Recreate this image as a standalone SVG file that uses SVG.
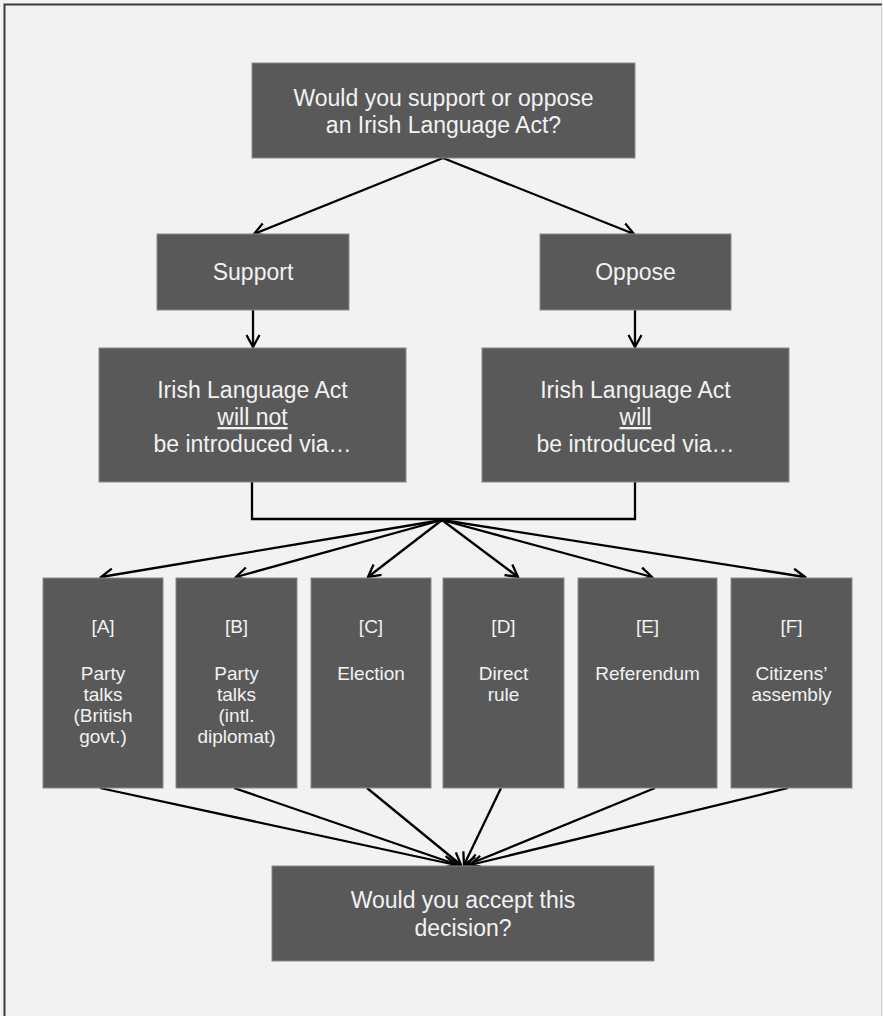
<svg xmlns="http://www.w3.org/2000/svg" width="883" height="1016" viewBox="0 0 883 1016">
<defs>
<marker id="arr" viewBox="0 0 16 16" refX="14" refY="8" markerWidth="16" markerHeight="16" orient="auto" markerUnits="userSpaceOnUse">
<path d="M2,1.5 L14,8 L2,14.5" fill="none" stroke="#000" stroke-width="2.3"/>
</marker>
<style>
.box{fill:#595959;stroke:#8a8a8a;stroke-width:1}
.t{font-family:"Liberation Sans",Arial,sans-serif;fill:#f2f2f2;text-anchor:middle}
.l{font-size:23px}
.s{font-size:19px}
.c{fill:none;stroke:#000;stroke-width:2.3}
</style>
</defs>
<rect x="0" y="0" width="883" height="1016" fill="#f2f2f2"/>
<path d="M4.5,1016 V4.5 H882" fill="none" stroke="#3a3a3a" stroke-width="2"/>
<path d="M881.5,5 V1016" fill="none" stroke="#cfcfcf" stroke-width="1"/>

<g id="connectors">
<line class="c" x1="443" y1="158" x2="254" y2="234" marker-end="url(#arr)"/>
<line class="c" x1="443" y1="158" x2="634" y2="234" marker-end="url(#arr)"/>
<line class="c" x1="253" y1="310" x2="253" y2="347" marker-end="url(#arr)"/>
<line class="c" x1="635" y1="310" x2="635" y2="347" marker-end="url(#arr)"/>
<path class="c" d="M252,482 V519 H635 V482"/>
<line class="c" x1="442" y1="520" x2="101" y2="577" marker-end="url(#arr)"/>
<line class="c" x1="442" y1="520" x2="236" y2="577" marker-end="url(#arr)"/>
<line class="c" x1="442" y1="520" x2="368" y2="577" marker-end="url(#arr)"/>
<line class="c" x1="442" y1="520" x2="518" y2="577" marker-end="url(#arr)"/>
<line class="c" x1="442" y1="520" x2="652" y2="577" marker-end="url(#arr)"/>
<line class="c" x1="442" y1="520" x2="805" y2="577" marker-end="url(#arr)"/>
<line class="c" x1="100" y1="788" x2="456" y2="865" marker-end="url(#arr)"/>
<line class="c" x1="234" y1="788" x2="458" y2="865" marker-end="url(#arr)"/>
<line class="c" x1="367" y1="788" x2="461" y2="865" marker-end="url(#arr)"/>
<line class="c" x1="501" y1="788" x2="464" y2="865" marker-end="url(#arr)"/>
<line class="c" x1="655" y1="788" x2="467" y2="865" marker-end="url(#arr)"/>
<line class="c" x1="788" y1="788" x2="470" y2="865" marker-end="url(#arr)"/>
</g>

<g id="question">
<rect class="box" x="252" y="63" width="383" height="95"/>
<text class="t l" x="443.5" y="106">Would you support or oppose</text>
<text class="t l" x="443.5" y="133">an Irish Language Act?</text>
</g>

<g id="support">
<rect class="box" x="157" y="234" width="192" height="76"/>
<text class="t l" x="253" y="280">Support</text>
</g>

<g id="oppose">
<rect class="box" x="540" y="234" width="191" height="76"/>
<text class="t l" x="635.5" y="280">Oppose</text>
</g>

<g id="will-not">
<rect class="box" x="99" y="348" width="307" height="134"/>
<text class="t l" x="252.5" y="398">Irish Language Act</text>
<text class="t l" x="252.5" y="425" text-decoration="underline">will not</text>
<text class="t l" x="252.5" y="452">be introduced via…</text>
</g>

<g id="will">
<rect class="box" x="482" y="348" width="307" height="134"/>
<text class="t l" x="635.5" y="398">Irish Language Act</text>
<text class="t l" x="635.5" y="425" text-decoration="underline">will</text>
<text class="t l" x="635.5" y="452">be introduced via…</text>
</g>

<g id="a">
<rect class="box" x="43" y="578" width="120" height="210"/>
<text class="t s" x="103" y="633">[A]</text>
<text class="t s" x="103" y="680">Party</text>
<text class="t s" x="103" y="701">talks</text>
<text class="t s" x="103" y="722">(British</text>
<text class="t s" x="103" y="743">govt.)</text>
</g>

<g id="b">
<rect class="box" x="176" y="578" width="121" height="210"/>
<text class="t s" x="236.5" y="633">[B]</text>
<text class="t s" x="236.5" y="680">Party</text>
<text class="t s" x="236.5" y="701">talks</text>
<text class="t s" x="236.5" y="722">(intl.</text>
<text class="t s" x="236.5" y="743">diplomat)</text>
</g>

<g id="c">
<rect class="box" x="311" y="578" width="120" height="210"/>
<text class="t s" x="371" y="633">[C]</text>
<text class="t s" x="371" y="680">Election</text>
</g>

<g id="d">
<rect class="box" x="443" y="578" width="121" height="210"/>
<text class="t s" x="503.5" y="633">[D]</text>
<text class="t s" x="503.5" y="680">Direct</text>
<text class="t s" x="503.5" y="701">rule</text>
</g>

<g id="e">
<rect class="box" x="578" y="578" width="139" height="210"/>
<text class="t s" x="647.5" y="633">[E]</text>
<text class="t s" x="647.5" y="680">Referendum</text>
</g>

<g id="f">
<rect class="box" x="731" y="578" width="121" height="210"/>
<text class="t s" x="791.5" y="633">[F]</text>
<text class="t s" x="791.5" y="680">Citizens’</text>
<text class="t s" x="791.5" y="701">assembly</text>
</g>

<g id="accept">
<rect class="box" x="272" y="866" width="382" height="95"/>
<text class="t l" x="463" y="908">Would you accept this</text>
<text class="t l" x="463" y="936">decision?</text>
</g>
</svg>
